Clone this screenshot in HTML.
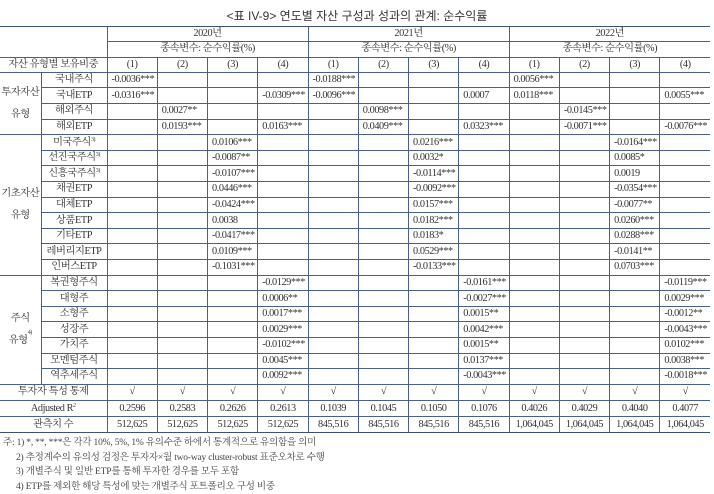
<!DOCTYPE html>
<html><head><meta charset="utf-8"><style>
body{margin:0;width:714px;height:493px;background:#fff;overflow:hidden;font-family:"Liberation Serif","Noto Serif CJK KR","Noto Serif CJK SC",serif;color:#333;}
.title{position:absolute;top:7px;left:0;width:714px;text-align:center;font-family:"Liberation Sans","Noto Sans CJK KR",sans-serif;font-size:12px;color:#333;}
table{position:absolute;top:26px;left:0;border-collapse:collapse;table-layout:fixed;width:710px;font-size:10.3px;letter-spacing:-0.45px;}
td{border:1px solid #4a5f8e;padding:0;white-space:nowrap;overflow:hidden;line-height:12px;}
tr td:first-child{border-left:none;}
tr td:last-child{border-right:none;}
table tr:first-child td{border-top:1.5px solid #3c4f7e;}
table tr:last-child td{border-bottom:1.5px solid #3c4f7e;}
tr.h{height:15.3px;} tr.h td{text-align:center;}
tr.r{height:15.6px;}
tr.b{height:16.2px;} tr.b td{text-align:center;}
.c{text-align:center;}
.n{padding-left:4px;}
.g{text-align:center;line-height:22px;}
sup{font-size:6px;vertical-align:top;line-height:6px;}
.notes{position:absolute;left:3px;top:436px;font-size:9.5px;line-height:14.5px;color:#444;letter-spacing:-0.2px;}
.notes div.i{padding-left:13px;}
</style></head><body>
<div class="title">&lt;표 IV-9&gt; 연도별 자산 구성과 성과의 관계: 순수익률</div>
<table>
<colgroup><col style="width:41px"><col style="width:66px"><col span="12" style="width:50.25px"></colgroup>
<tr class="h"><td colspan="2" rowspan="2" style="border-top:1.5px solid #3c4f7e"></td><td colspan="4">2020년</td><td colspan="4">2021년</td><td colspan="4">2022년</td></tr>
<tr class="h"><td colspan="4">종속변수: 순수익률(%)</td><td colspan="4">종속변수: 순수익률(%)</td><td colspan="4">종속변수: 순수익률(%)</td></tr>
<tr class="h"><td colspan="2">자산 유형별 보유비중</td><td>(1)</td><td>(2)</td><td>(3)</td><td>(4)</td><td>(1)</td><td>(2)</td><td>(3)</td><td>(4)</td><td>(1)</td><td>(2)</td><td>(3)</td><td>(4)</td></tr>
<tr class="r"><td rowspan="4" class="g">투자자산<br>유형</td><td class="c">국내주식</td><td class="n">-0.0036***</td><td></td><td></td><td></td><td class="n">-0.0188***</td><td></td><td></td><td></td><td class="n">0.0056***</td><td></td><td></td><td></td></tr>
<tr class="r"><td class="c">국내ETP</td><td class="n">-0.0316***</td><td></td><td></td><td class="n">-0.0309***</td><td class="n">-0.0096***</td><td></td><td></td><td class="n">0.0007</td><td class="n">0.0118***</td><td></td><td></td><td class="n">0.0055***</td></tr>
<tr class="r"><td class="c">해외주식</td><td></td><td class="n">0.0027**</td><td></td><td></td><td></td><td class="n">0.0098***</td><td></td><td></td><td></td><td class="n">-0.0145***</td><td></td><td></td></tr>
<tr class="r"><td class="c">해외ETP</td><td></td><td class="n">0.0193***</td><td></td><td class="n">0.0163***</td><td></td><td class="n">0.0409***</td><td></td><td class="n">0.0323***</td><td></td><td class="n">-0.0071***</td><td></td><td class="n">-0.0076***</td></tr>
<tr class="r"><td rowspan="9" class="g">기초자산<br>유형</td><td class="c">미국주식<sup>3)</sup></td><td></td><td></td><td class="n">0.0106***</td><td></td><td></td><td></td><td class="n">0.0216***</td><td></td><td></td><td></td><td class="n">-0.0164***</td><td></td></tr>
<tr class="r"><td class="c">선진국주식<sup>3)</sup></td><td></td><td></td><td class="n">-0.0087**</td><td></td><td></td><td></td><td class="n">0.0032*</td><td></td><td></td><td></td><td class="n">0.0085*</td><td></td></tr>
<tr class="r"><td class="c">신흥국주식<sup>3)</sup></td><td></td><td></td><td class="n">-0.0107***</td><td></td><td></td><td></td><td class="n">-0.0114***</td><td></td><td></td><td></td><td class="n">0.0019</td><td></td></tr>
<tr class="r"><td class="c">채권ETP</td><td></td><td></td><td class="n">0.0446***</td><td></td><td></td><td></td><td class="n">-0.0092***</td><td></td><td></td><td></td><td class="n">-0.0354***</td><td></td></tr>
<tr class="r"><td class="c">대체ETP</td><td></td><td></td><td class="n">-0.0424***</td><td></td><td></td><td></td><td class="n">0.0157***</td><td></td><td></td><td></td><td class="n">-0.0077**</td><td></td></tr>
<tr class="r"><td class="c">상품ETP</td><td></td><td></td><td class="n">0.0038</td><td></td><td></td><td></td><td class="n">0.0182***</td><td></td><td></td><td></td><td class="n">0.0260***</td><td></td></tr>
<tr class="r"><td class="c">기타ETP</td><td></td><td></td><td class="n">-0.0417***</td><td></td><td></td><td></td><td class="n">0.0183*</td><td></td><td></td><td></td><td class="n">0.0288***</td><td></td></tr>
<tr class="r"><td class="c">레버리지ETP</td><td></td><td></td><td class="n">0.0109***</td><td></td><td></td><td></td><td class="n">0.0529***</td><td></td><td></td><td></td><td class="n">-0.0141**</td><td></td></tr>
<tr class="r"><td class="c">인버스ETP</td><td></td><td></td><td class="n">-0.1031***</td><td></td><td></td><td></td><td class="n">-0.0133***</td><td></td><td></td><td></td><td class="n">0.0703***</td><td></td></tr>
<tr class="r"><td rowspan="7" class="g">주식<br>유형<sup>4)</sup></td><td class="c">복권형주식</td><td></td><td></td><td></td><td class="n">-0.0129***</td><td></td><td></td><td></td><td class="n">-0.0161***</td><td></td><td></td><td></td><td class="n">-0.0119***</td></tr>
<tr class="r"><td class="c">대형주</td><td></td><td></td><td></td><td class="n">0.0006**</td><td></td><td></td><td></td><td class="n">-0.0027***</td><td></td><td></td><td></td><td class="n">0.0029***</td></tr>
<tr class="r"><td class="c">소형주</td><td></td><td></td><td></td><td class="n">0.0017***</td><td></td><td></td><td></td><td class="n">0.0015**</td><td></td><td></td><td></td><td class="n">-0.0012**</td></tr>
<tr class="r"><td class="c">성장주</td><td></td><td></td><td></td><td class="n">0.0029***</td><td></td><td></td><td></td><td class="n">0.0042***</td><td></td><td></td><td></td><td class="n">-0.0043***</td></tr>
<tr class="r"><td class="c">가치주</td><td></td><td></td><td></td><td class="n">-0.0102***</td><td></td><td></td><td></td><td class="n">0.0015**</td><td></td><td></td><td></td><td class="n">0.0102***</td></tr>
<tr class="r"><td class="c">모멘텀주식</td><td></td><td></td><td></td><td class="n">0.0045***</td><td></td><td></td><td></td><td class="n">0.0137***</td><td></td><td></td><td></td><td class="n">0.0038***</td></tr>
<tr class="r"><td class="c">역추세주식</td><td></td><td></td><td></td><td class="n">0.0092***</td><td></td><td></td><td></td><td class="n">-0.0043***</td><td></td><td></td><td></td><td class="n">-0.0018***</td></tr>
<tr class="b"><td colspan="2">투자자 특성 통제</td><td>√</td><td>√</td><td>√</td><td>√</td><td>√</td><td>√</td><td>√</td><td>√</td><td>√</td><td>√</td><td>√</td><td>√</td></tr>
<tr class="b"><td colspan="2">Adjusted R<sup>2</sup></td><td>0.2596</td><td>0.2583</td><td>0.2626</td><td>0.2613</td><td>0.1039</td><td>0.1045</td><td>0.1050</td><td>0.1076</td><td>0.4026</td><td>0.4029</td><td>0.4040</td><td>0.4077</td></tr>
<tr class="b"><td colspan="2">관측치 수</td><td>512,625</td><td>512,625</td><td>512,625</td><td>512,625</td><td>845,516</td><td>845,516</td><td>845,516</td><td>845,516</td><td>1,064,045</td><td>1,064,045</td><td>1,064,045</td><td>1,064,045</td></tr>
</table>
<div class="notes">
<div>주: 1) *, **, ***은 각각 10%, 5%, 1% 유의수준 하에서 통계적으로 유의함을 의미</div>
<div class="i">2) 추정계수의 유의성 검정은 투자자×월 two-way cluster-robust 표준오차로 수행</div>
<div class="i">3) 개별주식 및 일반 ETP를 통해 투자한 경우를 모두 포함</div>
<div class="i">4) ETP를 제외한 해당 특성에 맞는 개별주식 포트폴리오 구성 비중</div>
</div>
</body></html>
